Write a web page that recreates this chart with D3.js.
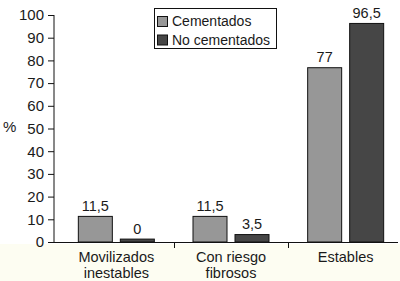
<html>
<head>
    <script src="https://d3js.org/d3.v7.min.js"></script>
    <style>
        body { margin: 0; background: #fff; }
        text { font-family: "Liberation Sans", Arial, sans-serif; fill: #1a1a1a; }
    </style>
</head>
<body>
    <svg id="plot"></svg>
    <script>
        var categories = [["Movilizados", "inestables"], ["Con riesgo", "fibrosos"], ["Estables"]];
        var series = ["Cementados", "No cementados"];
        var cementados = [11.5, 11.5, 77];
        var noCementados = [1.5, 3.5, 96.5];   // drawn height (the first bar is a small stub labelled 0)
        var cementadosLabels = ["11,5", "11,5", "77"];
        var noCementadosLabels = ["0", "3,5", "96,5"];
        var yTicks = [0, 10, 20, 30, 40, 50, 60, 70, 80, 90, 100];
        var colors = ["#979797", "#464646"];

        var W = 400, H = 281;
        var svg = d3.select("#plot").attr("width", W).attr("height", H);

        var y = d3.scaleLinear().domain([0, 100]).range([242, 15]);
        var x = d3.scaleBand().domain(d3.range(categories.length)).range([59, 403]);
        var xs = d3.scaleBand().domain(series).range([-38.5, 38.5]).paddingInner(1 / 6);

        // pale band under the axis
        svg.append("rect").attr("x", 0).attr("y", 244).attr("width", W).attr("height", H - 244)
            .attr("fill", "#fdfdf2");

        // y axis
        var yAxis = d3.axisLeft(y).tickValues(yTicks).tickSize(6).tickPadding(4);
        var yg = svg.append("g").attr("transform", "translate(54,0)").call(yAxis);
        yg.select(".domain").attr("stroke", "#111").attr("d", "M0," + y(100) + "V" + y(0));
        yg.selectAll(".tick line").attr("stroke", "#111");
        yg.selectAll(".tick text").style("font-size", "15px").attr("fill", "#1a1a1a");

        svg.append("text").attr("x", 3).attr("y", 132).style("font-size", "15px").text("%");

        // bars
        var rows = categories.map(function (c, i) {
            return [
                { cat: i, s: series[0], v: cementados[i], label: cementadosLabels[i], color: colors[0] },
                { cat: i, s: series[1], v: noCementados[i], label: noCementadosLabels[i], color: colors[1] }
            ];
        });
        var flat = [].concat.apply([], rows);

        svg.selectAll(".bar").data(flat).enter().append("rect").classed("bar", true)
            .attr("x", function (d) { return x(d.cat) + x.bandwidth() / 2 + xs(d.s) + 0.5; })
            .attr("y", function (d) { return y(d.v) + 0.5; })
            .attr("width", xs.bandwidth() - 1)
            .attr("height", function (d) { return y(0) - y(d.v) - 0.5; })
            .attr("fill", function (d) { return d.color; })
            .attr("stroke", "#111").attr("stroke-width", 1);

        svg.selectAll(".vlabel").data(flat).enter().append("text").classed("vlabel", true)
            .attr("x", function (d) { return x(d.cat) + x.bandwidth() / 2 + xs(d.s) + xs.bandwidth() / 2; })
            .attr("y", function (d) { return y(d.v) - 5; })
            .attr("text-anchor", "middle").style("font-size", "14.5px")
            .text(function (d) { return d.label; });

        // x axis
        svg.append("line").attr("x1", 54).attr("x2", 398).attr("y1", 242.5).attr("y2", 242.5)
            .attr("stroke", "#111");
        var sepTicks = d3.range(1, categories.length).map(function (i) { return x(i); });
        svg.selectAll(".sep").data(sepTicks).enter().append("line")
            .attr("x1", function (d) { return Math.round(d) + 0.5; })
            .attr("x2", function (d) { return Math.round(d) + 0.5; })
            .attr("y1", 242).attr("y2", 248).attr("stroke", "#111");

        var cl = svg.selectAll(".cat").data(categories).enter().append("text").classed("cat", true)
            .attr("text-anchor", "middle").style("font-size", "14.5px")
            .attr("transform", function (d, i) { return "translate(" + (x(i) + x.bandwidth() / 2) + ",262)"; });
        cl.selectAll("tspan").data(function (d) { return d; }).enter().append("tspan")
            .attr("x", 0).attr("dy", function (d, j) { return j === 0 ? 0 : 15.5; })
            .text(function (d) { return d; });

        // legend
        var lg = svg.append("g");
        lg.append("rect").attr("x", 154.5).attr("y", 8.5).attr("width", 122).attr("height", 40)
            .attr("fill", "#fff").attr("stroke", "#111");
        var items = lg.selectAll(".item").data(series).enter().append("g")
            .attr("transform", function (d, i) { return "translate(0," + (i * 18.5) + ")"; });
        items.append("rect").attr("x", 157.5).attr("y", 16.5).attr("width", 10).attr("height", 10)
            .attr("fill", function (d, i) { return colors[i]; }).attr("stroke", "#111");
        items.append("text").attr("x", 172).attr("y", 26).style("font-size", "14px")
            .text(function (d) { return d; });
    </script>
</body>
</html>
